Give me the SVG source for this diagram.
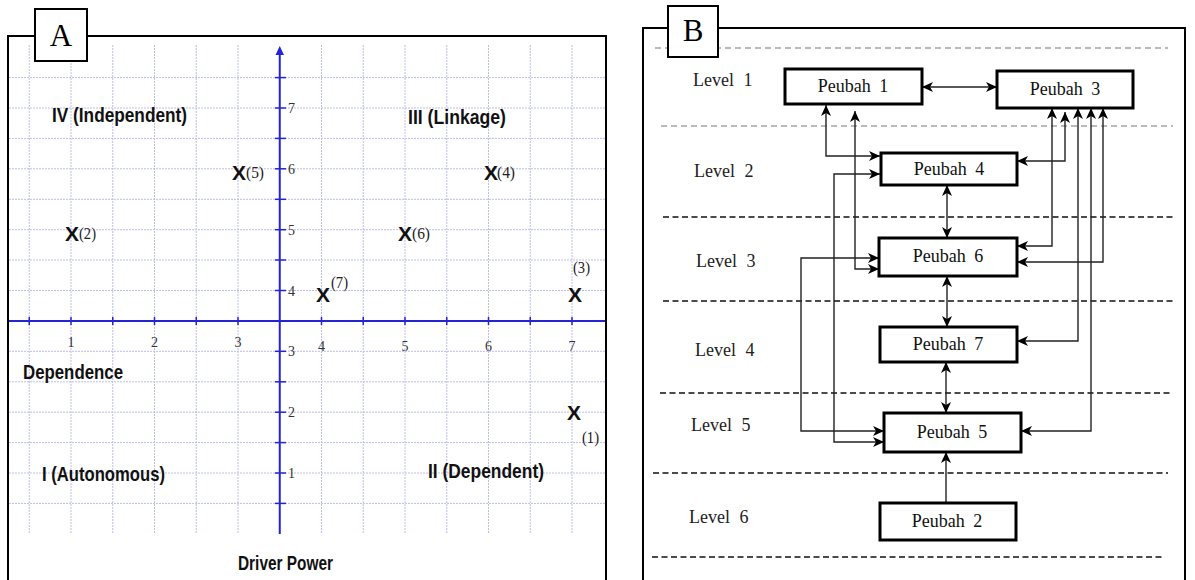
<svg xmlns="http://www.w3.org/2000/svg" width="1195" height="580" viewBox="0 0 1195 580">
<style>
.frame{fill:none;stroke:#000;stroke-width:2}
.lbox{fill:#fff;stroke:#000;stroke-width:2}
.big{font-family:"Liberation Serif",serif;font-size:31px;text-anchor:middle;fill:#000}
.grid{stroke:#bdbdee;stroke-width:1;stroke-dasharray:2,1}
.axis{stroke:#2424d6;stroke-width:2;fill:none}
.tick{stroke:#2424d6;stroke-width:1.5}
.tn{font-family:"Liberation Serif",serif;font-size:14px;fill:#333}
.quad{font-family:"Liberation Sans",Arial,sans-serif;font-weight:bold;font-size:21px;fill:#111}
.xm{font-family:"Liberation Sans",Arial,sans-serif;font-weight:bold;font-size:21px;fill:#111;text-anchor:middle}
.xl{font-family:"Liberation Serif",serif;font-size:16px;fill:#222}
.dg{stroke:#777;stroke-width:1.2;stroke-dasharray:6,4}
.dk{stroke:#111;stroke-width:1.3;stroke-dasharray:6,3.5}
.lv{font-family:"Liberation Serif",serif;font-size:18px;fill:#222;word-spacing:5px}
.node rect{fill:#fff;stroke:#000;stroke-width:3}
.node text{font-family:"Liberation Serif",serif;font-size:18px;fill:#111;text-anchor:middle;word-spacing:4px}
.cn{fill:none;stroke:#222;stroke-width:1.4}
</style>
<defs>
<marker id="ah" markerUnits="userSpaceOnUse" markerWidth="11" markerHeight="10" viewBox="0 0 11 10" refX="11" refY="5" orient="auto-start-reverse">
<path d="M0,0 L11,5 L0,10 L3,5 z" fill="#000"/>
</marker>
</defs>
<rect width="1195" height="580" fill="#fff"/>

<!-- Panel A -->
<g id="panelA">
<rect class="frame" x="8" y="36" width="598" height="560"/>
<g id="gridA">
<line class="grid" x1="29.25" y1="45" x2="29.25" y2="534"/>
<line class="grid" x1="71" y1="45" x2="71" y2="534"/>
<line class="grid" x1="112.75" y1="45" x2="112.75" y2="534"/>
<line class="grid" x1="154.5" y1="45" x2="154.5" y2="534"/>
<line class="grid" x1="196.25" y1="45" x2="196.25" y2="534"/>
<line class="grid" x1="238" y1="45" x2="238" y2="534"/>
<line class="grid" x1="321.5" y1="45" x2="321.5" y2="534"/>
<line class="grid" x1="363.25" y1="45" x2="363.25" y2="534"/>
<line class="grid" x1="405" y1="45" x2="405" y2="534"/>
<line class="grid" x1="446.75" y1="45" x2="446.75" y2="534"/>
<line class="grid" x1="488.5" y1="45" x2="488.5" y2="534"/>
<line class="grid" x1="530.25" y1="45" x2="530.25" y2="534"/>
<line class="grid" x1="572" y1="45" x2="572" y2="534"/>
<line class="grid" x1="9" y1="77.6" x2="605" y2="77.6"/>
<line class="grid" x1="9" y1="108" x2="605" y2="108"/>
<line class="grid" x1="9" y1="138.4" x2="605" y2="138.4"/>
<line class="grid" x1="9" y1="168.8" x2="605" y2="168.8"/>
<line class="grid" x1="9" y1="199.3" x2="605" y2="199.3"/>
<line class="grid" x1="9" y1="229.7" x2="605" y2="229.7"/>
<line class="grid" x1="9" y1="260" x2="605" y2="260"/>
<line class="grid" x1="9" y1="290.5" x2="605" y2="290.5"/>
<line class="grid" x1="9" y1="351.3" x2="605" y2="351.3"/>
<line class="grid" x1="9" y1="381.8" x2="605" y2="381.8"/>
<line class="grid" x1="9" y1="412.2" x2="605" y2="412.2"/>
<line class="grid" x1="9" y1="442.6" x2="605" y2="442.6"/>
<line class="grid" x1="9" y1="473" x2="605" y2="473"/>
<line class="grid" x1="9" y1="503.4" x2="605" y2="503.4"/>
</g>
<g id="axesA">
<line class="axis" x1="9" y1="320.9" x2="605" y2="320.9"/>
<line class="axis" x1="279.75" y1="54" x2="279.75" y2="534"/>
<path d="M279.75,46 L284,55 L275.5,55 z" fill="#2424d6"/>
<g class="tick">
<line x1="29.25" y1="317" x2="29.25" y2="325"/><line x1="71" y1="317" x2="71" y2="325"/><line x1="112.75" y1="317" x2="112.75" y2="325"/><line x1="154.5" y1="317" x2="154.5" y2="325"/><line x1="196.25" y1="317" x2="196.25" y2="325"/><line x1="238" y1="317" x2="238" y2="325"/><line x1="321.5" y1="317" x2="321.5" y2="325"/><line x1="363.25" y1="317" x2="363.25" y2="325"/><line x1="405" y1="317" x2="405" y2="325"/><line x1="446.75" y1="317" x2="446.75" y2="325"/><line x1="488.5" y1="317" x2="488.5" y2="325"/><line x1="530.25" y1="317" x2="530.25" y2="325"/><line x1="572" y1="317" x2="572" y2="325"/>
<line x1="275" y1="77.6" x2="286" y2="77.6"/><line x1="275" y1="108" x2="286" y2="108"/><line x1="275" y1="138.4" x2="286" y2="138.4"/><line x1="275" y1="168.8" x2="286" y2="168.8"/><line x1="275" y1="199.3" x2="286" y2="199.3"/><line x1="275" y1="229.7" x2="286" y2="229.7"/><line x1="275" y1="260" x2="286" y2="260"/><line x1="275" y1="290.5" x2="286" y2="290.5"/><line x1="275" y1="351.3" x2="286" y2="351.3"/><line x1="275" y1="381.8" x2="286" y2="381.8"/><line x1="275" y1="412.2" x2="286" y2="412.2"/><line x1="275" y1="442.6" x2="286" y2="442.6"/><line x1="275" y1="473" x2="286" y2="473"/><line x1="275" y1="503.4" x2="286" y2="503.4"/>
</g>
<g class="tn" text-anchor="middle">
<text x="71" y="347">1</text><text x="154.5" y="347">2</text><text x="238" y="347">3</text><text x="321.5" y="351">4</text><text x="405" y="351">5</text><text x="488.5" y="351">6</text><text x="572" y="351">7</text>
</g>
<g class="tn">
<text x="288" y="113">7</text><text x="288" y="174">6</text><text x="288" y="235">5</text><text x="288" y="296">4</text><text x="288" y="356">3</text><text x="288" y="417">2</text><text x="288" y="478">1</text>
</g>
</g>
<g id="quadLabels">
<text class="quad" x="52" y="122" textLength="135" lengthAdjust="spacingAndGlyphs">IV (Independent)</text>
<text class="quad" x="408" y="124" textLength="98" lengthAdjust="spacingAndGlyphs">III (Linkage)</text>
<text class="quad" x="23" y="379" textLength="100" lengthAdjust="spacingAndGlyphs">Dependence</text>
<text class="quad" x="42" y="481" textLength="123" lengthAdjust="spacingAndGlyphs">I (Autonomous)</text>
<text class="quad" x="428" y="478" textLength="116" lengthAdjust="spacingAndGlyphs">II (Dependent)</text>
<text class="quad" x="238" y="570" textLength="95" lengthAdjust="spacingAndGlyphs">Driver Power</text>
</g>
<g id="points">
<g id="p5"><text class="xm" x="239" y="180">X</text><text class="xl" x="246" y="178" textLength="18" lengthAdjust="spacingAndGlyphs">(5)</text></g>
<g id="p4"><text class="xm" x="491" y="180">X</text><text class="xl" x="497" y="178" textLength="18" lengthAdjust="spacingAndGlyphs">(4)</text></g>
<g id="p2"><text class="xm" x="72" y="241">X</text><text class="xl" x="79" y="239" textLength="17" lengthAdjust="spacingAndGlyphs">(2)</text></g>
<g id="p6"><text class="xm" x="405" y="241">X</text><text class="xl" x="412" y="239" textLength="18" lengthAdjust="spacingAndGlyphs">(6)</text></g>
<g id="p7"><text class="xm" x="323" y="302">X</text><text class="xl" x="331" y="288" textLength="17" lengthAdjust="spacingAndGlyphs">(7)</text></g>
<g id="p3"><text class="xm" x="575" y="302">X</text><text class="xl" x="573" y="273" textLength="17" lengthAdjust="spacingAndGlyphs">(3)</text></g>
<g id="p1"><text class="xm" x="574" y="420">X</text><text class="xl" x="582" y="443" textLength="17" lengthAdjust="spacingAndGlyphs">(1)</text></g>
</g>
<rect class="lbox" x="35" y="9" width="52" height="52"/>
<text class="big" x="61" y="46">A</text>
</g>

<!-- Panel B -->
<g id="panelB">
<rect class="frame" x="643" y="28" width="542" height="570"/>
<g id="levels">
<line class="dg" x1="655" y1="48" x2="1168" y2="48"/>
<line class="dg" x1="661" y1="126" x2="1173" y2="126"/>
<line class="dk" x1="663" y1="217" x2="1175" y2="217"/>
<line class="dk" x1="663" y1="301" x2="1175" y2="301"/>
<line class="dk" x1="660" y1="393" x2="1172" y2="393"/>
<line class="dk" x1="653" y1="473" x2="1168" y2="473"/>
<line class="dk" x1="652" y1="557" x2="1165" y2="557"/>
<text class="lv" x="693" y="86">Level 1</text>
<text class="lv" x="694" y="177">Level 2</text>
<text class="lv" x="696" y="267">Level 3</text>
<text class="lv" x="695" y="356">Level 4</text>
<text class="lv" x="691" y="431">Level 5</text>
<text class="lv" x="689" y="523">Level 6</text>
</g>
<rect class="lbox" x="668" y="6" width="50" height="51"/>
<text class="big" x="693" y="41">B</text>
</g>

<g id="connectors" class="cn" marker-start="url(#ah)" marker-end="url(#ah)">
<path d="M922,87 H997"/>
<path d="M826,105 V156 H880"/>
<path d="M855,111 V269 H879"/>
<path d="M880,174 H834 V442 H884"/>
<path d="M879,258 H801 V431 H884"/>
<path d="M947,185 V238"/>
<path d="M947,276 V327"/>
<path d="M946,362 V413"/>
<path d="M946,503 V452" marker-start="none"/>
<path d="M1065,112 V161 H1017"/>
<path d="M1052,108 V246 H1017"/>
<path d="M1103,108 V262 H1017"/>
<path d="M1078,108 V341 H1017"/>
<path d="M1091,108 V431 H1021"/>
</g>

<g id="n1" class="node"><rect x="785" y="69" width="137" height="35"/><text x="853" y="92">Peubah 1</text></g>
<g id="n3" class="node"><rect x="997" y="71" width="136" height="37"/><text x="1065" y="95">Peubah 3</text></g>
<g id="n4" class="node"><rect x="881" y="153" width="136" height="32"/><text x="949" y="175">Peubah 4</text></g>
<g id="n6" class="node"><rect x="879" y="238" width="138" height="38"/><text x="948" y="262">Peubah 6</text></g>
<g id="n7" class="node"><rect x="880" y="327" width="137" height="35"/><text x="948" y="350">Peubah 7</text></g>
<g id="n5" class="node"><rect x="884" y="413" width="137" height="39"/><text x="952" y="438">Peubah 5</text></g>
<g id="n2" class="node"><rect x="880" y="503" width="136" height="37"/><text x="947" y="527">Peubah 2</text></g>
</svg>
